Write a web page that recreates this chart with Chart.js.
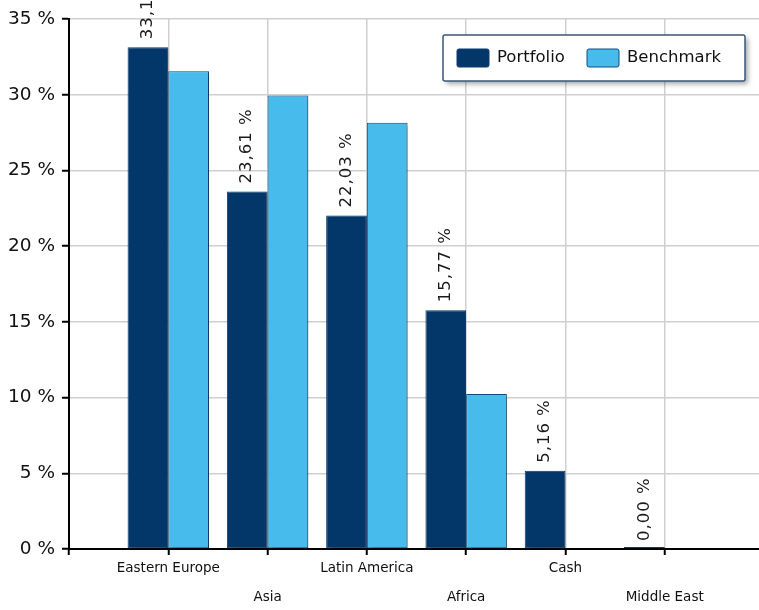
<!DOCTYPE html>
<html>
<head>
<meta charset="utf-8">
<script src="https://cdn.jsdelivr.net/npm/chart.js@4/dist/chart.umd.min.js"></script>
<style>
  html, body { margin: 0; padding: 0; background: #fff; overflow: hidden; }
  #wrap { position: relative; width: 764px; height: 610px; }
</style>
</head>
<body>
<div id="wrap"><canvas id="chart"></canvas></div>
<script>
// Regional allocation, in percent
const categories = ['Eastern Europe', 'Asia', 'Latin America', 'Africa', 'Cash', 'Middle East'];
const portfolio  = [33.13, 23.61, 22.03, 15.77, 5.16, 0.00];
const benchmark  = [31.55, 29.95, 28.15, 10.24, null, null];
const yTicks     = [0, 5, 10, 15, 20, 25, 30, 35];
const seriesNames = ['Portfolio', 'Benchmark'];

const FONT = '"DejaVu Sans", Verdana, sans-serif';
const C_PORT = '#03376A', C_PORT_B = '#0A3D70';
const C_BENCH = '#47BBEB', C_BENCH_B = '#124E84';

// one empty slot on each side of the categories
const labels = ['', ...categories, ''];
const pad = arr => [null, ...arr, null];

function fmt(v) {
  return v.toFixed(2).replace('.', ',') + ' %';
}

// soft drop shadow behind the bars
const barShadow = {
  id: 'barShadow',
  beforeDatasetsDraw(chart) {
    const ctx = chart.ctx;
    ctx.save();
    ctx.shadowColor = 'rgba(0,0,0,0.28)';
    ctx.shadowBlur = 4;
    ctx.shadowOffsetX = 4;
    ctx.shadowOffsetY = 2;
  },
  afterDatasetsDraw(chart) {
    chart.ctx.restore();
  }
};

// rotated value labels above the portfolio bars
const valueLabels = {
  id: 'valueLabels',
  afterDraw(chart) {
    const ctx = chart.ctx;
    const meta = chart.getDatasetMeta(0);
    const data = chart.data.datasets[0].data;
    ctx.save();
    ctx.font = '16.5px ' + FONT;
    ctx.fillStyle = '#1a1a1a';
    if ('letterSpacing' in ctx) ctx.letterSpacing = '1px';
    ctx.textAlign = 'left';
    ctx.textBaseline = 'middle';
    meta.data.forEach((el, i) => {
      const v = data[i];
      if (v === null || v === undefined) return;
      const y = chart.scales.y.getPixelForValue(v);
      ctx.save();
      ctx.translate(el.x, y - 8);
      ctx.rotate(-Math.PI / 2);
      ctx.fillText(fmt(v), 0, 0);
      ctx.restore();
    });
    ctx.restore();
  }
};

// boxed legend floating in the top right corner of the plot
const boxLegend = {
  id: 'boxLegend',
  afterDraw(chart) {
    const ctx = chart.ctx;
    const area = chart.chartArea;
    const w = 302, h = 46;
    const x = area.right - 19 - w, y = area.top + 16;
    ctx.save();
    ctx.shadowColor = 'rgba(0,0,0,0.35)';
    ctx.shadowBlur = 5;
    ctx.shadowOffsetX = 3;
    ctx.shadowOffsetY = 3;
    ctx.fillStyle = '#fff';
    ctx.beginPath();
    ctx.roundRect(x, y, w, h, 2);
    ctx.fill();
    ctx.restore();

    ctx.save();
    ctx.strokeStyle = '#3B5878';
    ctx.lineWidth = 1.5;
    ctx.beginPath();
    ctx.roundRect(x, y, w, h, 2);
    ctx.stroke();

    const items = [
      { text: seriesNames[0], fill: C_PORT, border: C_PORT_B, dx: 14 },
      { text: seriesNames[1], fill: C_BENCH, border: C_BENCH_B, dx: 144 }
    ];
    ctx.font = '16.5px ' + FONT;
    ctx.textBaseline = 'middle';
    ctx.textAlign = 'left';
    items.forEach(it => {
      const sx = x + it.dx, sy = y + 14;
      ctx.fillStyle = it.fill;
      ctx.strokeStyle = it.border;
      ctx.lineWidth = 1;
      ctx.beginPath();
      ctx.roundRect(sx, sy, 32, 18, 2);
      ctx.fill();
      ctx.stroke();
      ctx.fillStyle = '#111';
      ctx.fillText(it.text, sx + 40, sy + 9);
    });
    ctx.restore();
  }
};

new Chart(document.getElementById('chart'), {
  type: 'bar',
  data: {
    labels: labels,
    datasets: [
      {
        label: seriesNames[0],
        data: pad(portfolio),
        backgroundColor: C_PORT,
        borderColor: C_PORT_B,
        borderWidth: 1,
        borderSkipped: false,
        minBarLength: 2,
        categoryPercentage: 0.82,
        barPercentage: 1.0
      },
      {
        label: seriesNames[1],
        data: pad(benchmark),
        backgroundColor: C_BENCH,
        borderColor: C_BENCH_B,
        borderWidth: 1,
        borderSkipped: false,
        categoryPercentage: 0.82,
        barPercentage: 1.0
      }
    ]
  },
  options: {
    responsive: true,
    maintainAspectRatio: false,
    animation: false,
    events: [],
    layout: { padding: { top: 19, right: 0, bottom: 0, left: 0 } },
    plugins: {
      legend: { display: false },
      tooltip: { enabled: false }
    },
    scales: {
      x: {
        offset: false,
        afterFit(s) { s.height = 61; },
        border: { display: true, color: '#000', width: 2 },
        grid: {
          offset: false,
          color: '#cfcfcf',
          lineWidth: 1.5,
          drawTicks: true,
          tickLength: 6,
          tickColor: '#000',
          tickWidth: 2
        },
        ticks: {
          autoSkip: false,
          maxRotation: 0,
          padding: -1.5,
          color: '#111',
          font: { family: FONT, size: 13.5, lineHeight: 29 / 13.5 },
          callback(value, index) {
            const t = labels[index];
            if (!t) return '';
            return index % 2 === 0 ? ['', t] : t;
          }
        }
      },
      y: {
        min: yTicks[0],
        max: yTicks[yTicks.length - 1],
        afterFit(s) { s.width = 69; },
        afterBuildTicks(s) { s.ticks = yTicks.map(v => ({ value: v })); },
        border: { display: true, color: '#000', width: 2 },
        grid: {
          color: '#cfcfcf',
          lineWidth: 1.5,
          tickLength: 7,
          tickColor: '#000',
          tickWidth: 2
        },
        ticks: {
          padding: 7,
          color: '#111',
          font: { family: FONT, size: 18.5 },
          callback: v => v + ' %'
        }
      }
    }
  },
  plugins: [barShadow, valueLabels, boxLegend]
});
</script>
</body>
</html>
